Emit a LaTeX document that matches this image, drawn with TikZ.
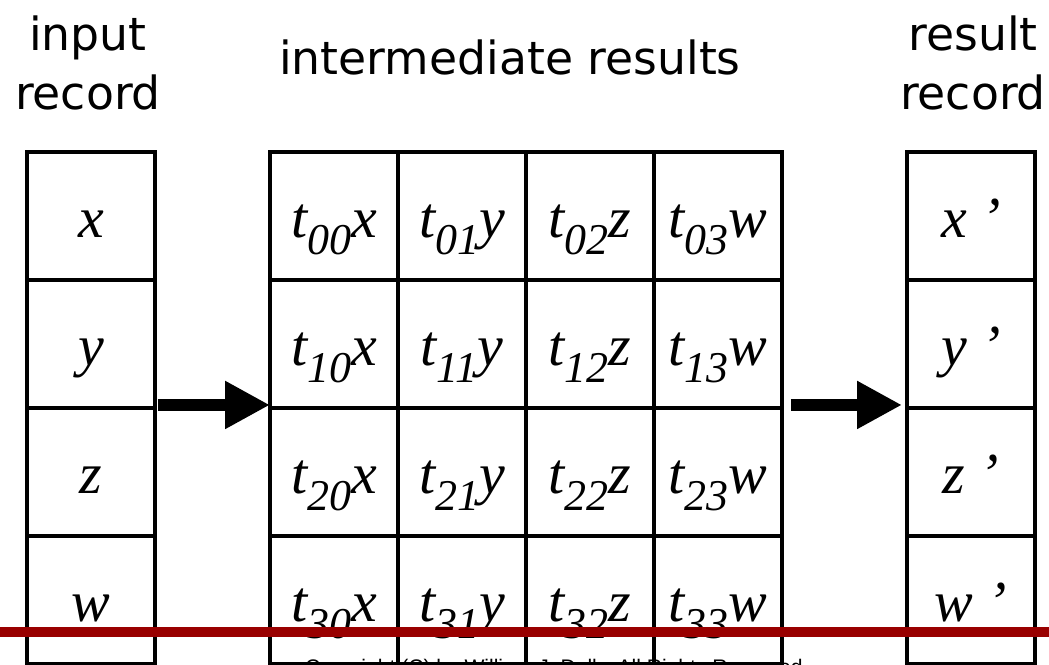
\documentclass[tikz,border=0pt]{standalone}
\usepackage{fontspec}
\setmainfont{Liberation Serif}
\newfontfamily\titlefont{DejaVu Sans}
\newfontfamily\copyfont{Liberation Sans}
\usetikzlibrary{arrows.meta,positioning}
\definecolor{barred}{HTML}{990000}
\newcommand{\tsub}[2]{t\raisebox{-0.34cm}[0pt][0pt]{\fontsize{25}{25}\selectfont #1}#2}

\begin{document}
\begin{tikzpicture}[
    x=0.02cm, y=-0.02cm,
    cell/.style={rectangle, draw, line width=2.3pt, minimum width=2.56cm, minimum height=2.56cm, inner sep=0pt, outer sep=0pt, text height=0.88cm, text depth=0cm, font=\itshape\fontsize{33}{33}\selectfont},
    title/.style={font=\titlefont\fontsize{26}{34}\selectfont, align=center, inner sep=0pt},
    bigarrow/.style={-{Triangle[length=0.9cm, width=0.9cm]}, line width=6.8pt}
]
\useasboundingbox (0,0) rectangle (1049,665);

% copyright line, mostly below the frame
\node[font=\copyfont\fontsize{12}{12}\selectfont, anchor=north, inner sep=0pt] (copy) at (554,659) {Copyright (C) by William J. Dally, All Rights Reserved};

% input record
\node[cell] (in0) at (91,216) {x};
\node[cell, below=0pt of in0] (in1) {y};
\node[cell, below=0pt of in1] (in2) {z};
\node[cell, below=0pt of in2] (in3) {w};
\node[title, anchor=base] (intitle) at (88,110) {input\\record};

% intermediate results
\node[cell] (m00) at (334,216) {\tsub{00}{x}};
\node[cell, right=0pt of m00] (m01) {\tsub{01}{y}};
\node[cell, right=0pt of m01] (m02) {\tsub{02}{z}};
\node[cell, right=0pt of m02] (m03) {\tsub{03}{w}};
\node[cell, below=0pt of m00] (m10) {\tsub{10}{x}};
\node[cell, right=0pt of m10] (m11) {\tsub{11}{y}};
\node[cell, right=0pt of m11] (m12) {\tsub{12}{z}};
\node[cell, right=0pt of m12] (m13) {\tsub{13}{w}};
\node[cell, below=0pt of m10] (m20) {\tsub{20}{x}};
\node[cell, right=0pt of m20] (m21) {\tsub{21}{y}};
\node[cell, right=0pt of m21] (m22) {\tsub{22}{z}};
\node[cell, right=0pt of m22] (m23) {\tsub{23}{w}};
\node[cell, below=0pt of m20] (m30) {\tsub{30}{x}};
\node[cell, right=0pt of m30] (m31) {\tsub{31}{y}};
\node[cell, right=0pt of m31] (m32) {\tsub{32}{z}};
\node[cell, right=0pt of m32] (m33) {\tsub{33}{w}};
\node[title, anchor=base] (midtitle) at (510,75) {intermediate results};

% result record
\node[cell] (out0) at (971,216) {x ’};
\node[cell, below=0pt of out0] (out1) {y ’};
\node[cell, below=0pt of out1] (out2) {z ’};
\node[cell, below=0pt of out2] (out3) {w ’};
\node[title, anchor=base] (outtitle) at (973,110) {result\\record};

\draw[bigarrow] ([xshift=0.06cm, yshift=0.06cm]in1.south east) -- ([yshift=0.06cm]m10.south west);
\draw[bigarrow] ([xshift=0.18cm, yshift=0.06cm]m13.south east) -- ([xshift=-0.1cm, yshift=0.06cm]out1.south west);

% red rule across the slide
\coordinate (barl) at (0,632);
\coordinate (barr) at (1049,632);
\draw[barred, line width=5.7pt] (barl) -- (barr);

\end{tikzpicture}
\end{document}
